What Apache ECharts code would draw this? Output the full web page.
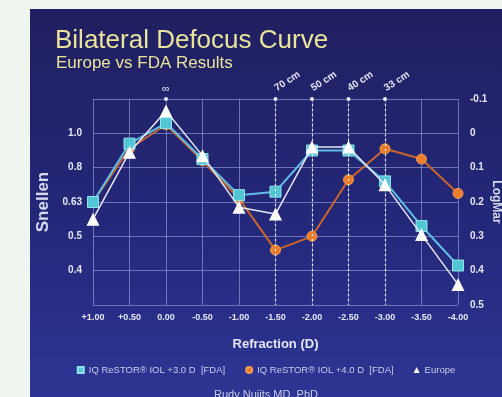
<!DOCTYPE html>
<html>
<head>
<meta charset="utf-8">
<script src="https://cdn.jsdelivr.net/npm/echarts@6/dist/echarts.min.js"></script>
<style>
    html, body { margin: 0; padding: 0; background: #eff6ef; }
    body { width: 502px; height: 397px; position: relative; overflow: hidden; }
    #chart {
        position: absolute; left: 30px; top: 9px; width: 472px; height: 388px;
        background: linear-gradient(to bottom, #201f5f 0%, #24287a 55%, #2d3594 100%);
    }
</style>
</head>
<body>
<div id="chart"></div>
<script>
    // refraction (D) categories
    const refraction = ['+1.00', '+0.50', '0.00', '-0.50', '-1.00', '-1.50', '-2.00', '-2.50', '-3.00', '-3.50', '-4.00'];
    // LogMar values
    const restor30 = [0.20, 0.03, -0.03, 0.075, 0.18, 0.17, 0.05, 0.05, 0.14, 0.27, 0.385];
    const restor40 = [0.20, 0.045, -0.025, 0.08, 0.19, 0.34, 0.30, 0.135, 0.045, 0.075, 0.175];
    const europe = [0.25, 0.055, -0.065, 0.065, 0.215, 0.235, 0.04, 0.04, 0.15, 0.295, 0.44];
    // snellen tick labels for the LogMar ticks
    const snellenTicks = { '0.0': '1.0', '0.1': '0.8', '0.2': '0.63', '0.3': '0.5', '0.4': '0.4' };
    // reading distances over the dashed columns
    const distances = { '-1.50': '70 cm', '-2.00': '50 cm', '-2.50': '40 cm', '-3.00': '33 cm' };

    const chart = echarts.init(document.getElementById('chart'));

    const txt = '#e4e6f4';
    const gridColor = 'rgba(170, 176, 236, 0.55)';

    const distanceLines = Object.keys(distances).map(function (c) {
        return [{ coord: [c, -0.1] }, { coord: [c, 0.5] }];
    });

    chart.setOption({
        textStyle: { fontFamily: 'Liberation Sans, Arial, sans-serif' },
        title: [{
            text: 'Bilateral Defocus Curve',
            left: 20, top: 14,
            textStyle: { color: '#e9e39c', fontSize: 26, fontWeight: 'normal' }
        }, {
            text: 'Europe vs FDA Results',
            left: 21, top: 41,
            textStyle: { color: '#e9e39c', fontSize: 17, fontWeight: 'normal' }
        }, {
            text: 'Rudy Nuijts MD, PhD',
            left: 'center', top: 375,
            textStyle: { color: '#c9cde6', fontSize: 11, fontWeight: 'normal' }
        }],
        legend: {
            top: 351, left: 'center',
            itemWidth: 6, itemHeight: 6, itemGap: 20,
            textStyle: { color: '#c9cde6', fontSize: 9.5 },
            data: [
                { name: 'IQ ReSTOR\u00ae IOL +3.0 D  [FDA]', icon: 'rect' },
                { name: 'IQ ReSTOR\u00ae IOL +4.0 D  [FDA]', icon: 'circle' },
                { name: 'Europe', icon: 'triangle' }
            ]
        },
        grid: { left: 63, right: 44, top: 90, bottom: 92, outerBoundsMode: 'none' },
        xAxis: [{
            type: 'category',
            data: refraction,
            boundaryGap: false,
            name: 'Refraction (D)',
            nameLocation: 'middle',
            nameGap: 33,
            nameTextStyle: { color: txt, fontSize: 13, fontWeight: 'bold' },
            axisLine: { show: false },
            axisTick: { show: false },
            axisLabel: { color: txt, fontSize: 9, fontWeight: 'bold', margin: 8, interval: 0 },
            splitLine: { show: true, interval: 0, lineStyle: { color: gridColor, width: 1 } }
        }, {
            type: 'category',
            data: refraction,
            boundaryGap: false,
            position: 'top',
            axisLine: { show: false },
            axisTick: { show: false },
            axisLabel: {
                color: txt, fontSize: 10, fontWeight: 'bold', margin: 10, interval: 0, rotate: 33,
                formatter: function (v) { return distances[v] || ''; }
            },
            splitLine: { show: false }
        }],
        yAxis: [{
            type: 'value',
            min: -0.1, max: 0.5, interval: 0.1,
            inverse: true,
            name: 'Snellen',
            nameLocation: 'middle',
            nameGap: 41,
            nameTextStyle: { color: '#d6d9ec', fontSize: 17, fontWeight: 'bold' },
            axisLine: { show: false },
            axisTick: { show: false },
            axisLabel: {
                color: txt, fontSize: 10, fontWeight: 'bold', margin: 11,
                formatter: function (v) { return snellenTicks[v.toFixed(1)] || ''; }
            },
            splitLine: { show: true, lineStyle: { color: gridColor, width: 1 } }
        }, {
            type: 'value',
            min: -0.1, max: 0.5, interval: 0.1,
            inverse: true,
            position: 'right',
            name: 'LogMar',
            nameLocation: 'middle',
            nameGap: 32,
            nameRotate: -90,
            nameMoveOverlap: false,
            nameTextStyle: { color: '#d6d9ec', fontSize: 12, fontWeight: 'bold' },
            axisLine: { show: false },
            axisTick: { show: false },
            axisLabel: {
                color: txt, fontSize: 10, fontWeight: 'bold', margin: 12,
                formatter: function (v) { return Math.abs(v) < 1e-9 ? '0' : v.toFixed(1); }
            },
            splitLine: { show: false }
        }],
        series: [{
            name: 'IQ ReSTOR\u00ae IOL +4.0 D  [FDA]',
            type: 'line',
            data: restor40,
            symbol: 'circle',
            symbolSize: 10,
            z: 3,
            lineStyle: { color: '#c9652c', width: 2 },
            itemStyle: { color: '#ec7d2c', borderColor: '#f19a4e', borderWidth: 1 }
        }, {
            name: 'IQ ReSTOR\u00ae IOL +3.0 D  [FDA]',
            type: 'line',
            data: restor30,
            symbol: 'rect',
            symbolSize: 11,
            z: 4,
            lineStyle: { color: '#5fbde3', width: 2 },
            itemStyle: { color: '#53c6d6', borderColor: '#8fe2ea', borderWidth: 1 },
            markLine: {
                silent: true,
                symbol: ['circle', 'none'],
                symbolSize: 4,
                label: { show: false },
                lineStyle: { color: '#e8eaf8', type: [2, 3], width: 1.2 },
                data: distanceLines
            },
            markPoint: {
                silent: true,
                symbol: 'circle',
                symbolSize: 4,
                itemStyle: { color: '#e8eaf8' },
                label: {
                    show: true, position: 'top', distance: 3,
                    formatter: '\u221e', color: txt, fontSize: 11
                },
                data: [{ coord: ['0.00', -0.1] }]
            }
        }, {
            name: 'Europe',
            type: 'line',
            data: europe,
            symbol: 'triangle',
            symbolSize: 13,
            z: 5,
            lineStyle: { color: '#e6e8f6', width: 1.5 },
            itemStyle: { color: '#ffffff', borderColor: '#ffffff', borderWidth: 0 }
        }]
    });
</script>
</body>
</html>
